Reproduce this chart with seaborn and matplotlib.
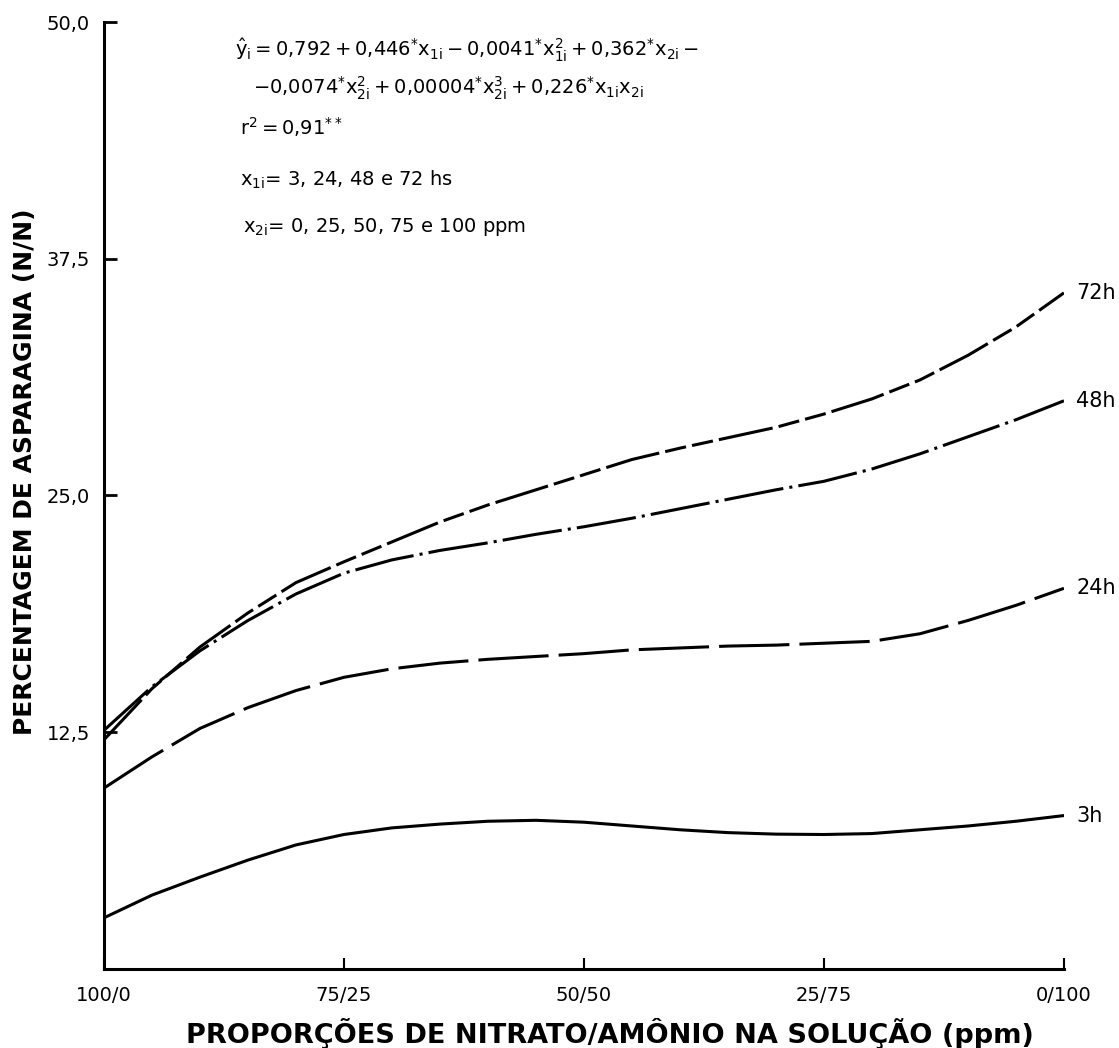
import pandas as pd
import matplotlib
matplotlib.use("Agg")
import matplotlib.pyplot as plt
import seaborn as sns

# amonio na solucao (ppm) -> eixo x vai de 100/0 ate 0/100
amonio = [0, 5, 10, 15, 20, 25, 30, 35, 40, 45, 50,
          55, 60, 65, 70, 75, 80, 85, 90, 95, 100]

h3 = [2.7, 3.9, 4.85, 5.75, 6.55, 7.1, 7.45, 7.65, 7.8, 7.85, 7.75,
      7.55, 7.35, 7.2, 7.12, 7.1, 7.15, 7.35, 7.55, 7.8, 8.1]
h24 = [9.55, 11.2, 12.7, 13.8, 14.7, 15.4, 15.85, 16.15, 16.35, 16.5, 16.65,
       16.85, 16.95, 17.05, 17.1, 17.2, 17.3, 17.7, 18.4, 19.2, 20.1]
h48 = [12.6, 14.9, 16.8, 18.4, 19.8, 20.9, 21.6, 22.1, 22.5, 22.95, 23.35,
       23.8, 24.3, 24.8, 25.3, 25.75, 26.4, 27.2, 28.1, 29.0, 30.0]
h72 = [12.1, 14.8, 17.0, 18.8, 20.4, 21.5, 22.55, 23.6, 24.5, 25.3, 26.1,
       26.9, 27.5, 28.05, 28.6, 29.3, 30.1, 31.1, 32.4, 33.9, 35.7]

tempos = ["3h", "24h", "48h", "72h"]
xticks = [0, 25, 50, 75, 100]
xticklabels = ["100/0", "75/25", "50/50", "25/75", "0/100"]
yticks = [12.5, 25.0, 37.5, 50.0]
yticklabels = ["12,5", "25,0", "37,5", "50,0"]

df = pd.concat([
    pd.DataFrame({"amonio": amonio, "asparagina": vals, "tempo": t})
    for t, vals in zip(tempos, [h3, h24, h48, h72])
])

sns.set_theme(style="ticks")
plt.rcParams["font.family"] = ["DejaVu Sans"]
plt.rcParams["mathtext.default"] = "regular"
for k in ["text.color", "axes.labelcolor", "xtick.color", "ytick.color"]:
    plt.rcParams[k] = "black"

fig = plt.figure(figsize=(11.19, 10.48), dpi=100)
ax = fig.add_axes([0.0929, 0.0754, 0.8579, 0.9036])

dashes = {"3h": "", "24h": (23, 3.3), "48h": (19.6, 2, 1, 2),
          "72h": (18, 2, 7, 2, 7, 2)}
sns.lineplot(data=df, x="amonio", y="asparagina", style="tempo",
             dashes=dashes, color="black", linewidth=2.2, legend=False, ax=ax)

# rotulos no fim das curvas
for t, vals in zip(tempos, [h3, h24, h48, h72]):
    ax.annotate(t, xy=(100, vals[-1]), xytext=(9, 0), textcoords="offset points",
                ha="left", va="center", fontsize=15, annotation_clip=False)

ax.set_xlim(0, 100)
ax.set_ylim(0, 50)
ax.set_xticks(xticks)
ax.set_xticklabels(xticklabels)
ax.set_yticks(yticks)
ax.set_yticklabels(yticklabels)
ax.tick_params(axis="x", direction="in", length=8, width=1.5, pad=12, labelsize=14)
ax.tick_params(axis="y", direction="in", length=9, width=2, pad=10, labelsize=14)
sns.despine(ax=ax)
for s in ["left", "bottom"]:
    ax.spines[s].set_linewidth(2.2)
    ax.spines[s].set_color("black")

ax.set_xlabel("PROPORÇÕES DE NITRATO/AMÔNIO NA SOLUÇÃO (ppm)",
              fontsize=19.5, fontweight="bold")
ax.set_ylabel("PERCENTAGEM DE ASPARAGINA (N/N)", fontsize=18,
              fontweight="bold")
ax.xaxis.set_label_coords(0.527, -0.052)
ax.yaxis.set_label_coords(-0.070, 0.525)

# equacao de regressao
eq1 = (r"$\hat{y}_i = 0{,}792 + 0{,}446^{*}x_{1i} - 0{,}0041^{*}x^{2}_{1i}"
       r" + 0{,}362^{*}x_{2i} -$")
eq2 = (r"$-0{,}0074^{*}x^{2}_{2i} + 0{,}00004^{*}x^{3}_{2i}"
       r" + 0{,}226^{*}x_{1i}x_{2i}$")
ax.text(13.6, 48.5, eq1, fontsize=14, va="center")
ax.text(15.5, 46.5, eq2, fontsize=14, va="center")
ax.text(14.2, 44.45, r"$r^{2} = 0{,}91^{**}$", fontsize=14, va="center")
ax.text(14.2, 41.65, r"$x_{1i}$= 3, 24, 48 e 72 hs", fontsize=14, va="center")
ax.text(14.5, 39.2, r"$x_{2i}$= 0, 25, 50, 75 e 100 ppm", fontsize=14, va="center")

plt.savefig("out.png", dpi=100)
